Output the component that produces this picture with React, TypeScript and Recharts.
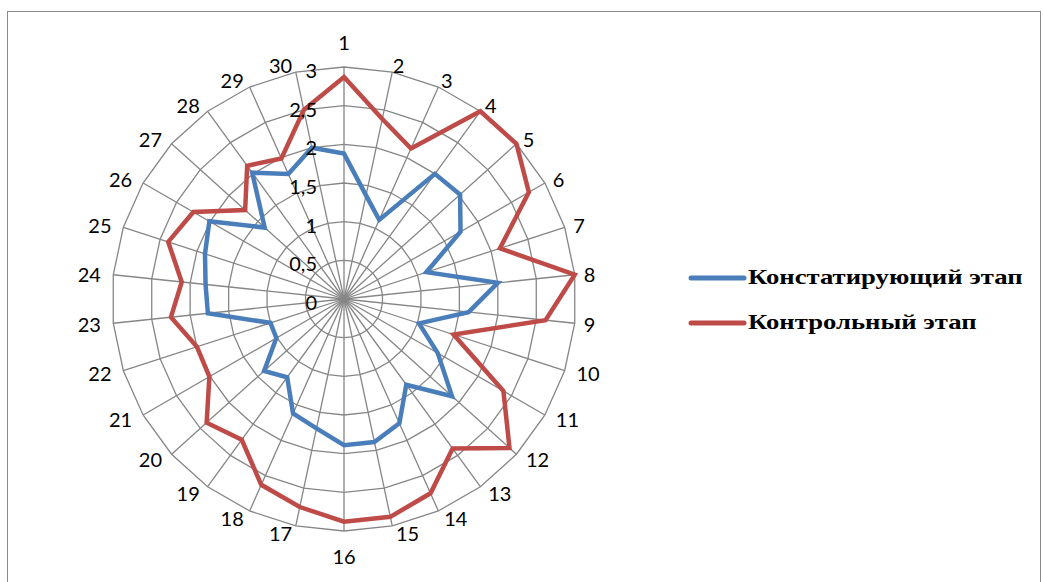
import React from 'react';
import { RadarChart, Radar, PolarGrid, PolarAngleAxis, PolarRadiusAxis, Legend } from 'recharts';

// categories 1..30
const categories = Array.from({ length: 30 }, (_, i) => String(i + 1));

const ascertainingStage = [
  1.88, 1.37, 1.12, 2.0, 2.02, 1.74, 1.12, 2.0, 1.62, 1.02,
  1.4, 1.88, 1.37, 1.76, 1.89, 1.89, 1.71, 1.62, 1.25, 1.39,
  1.01, 1.0, 1.77, 1.8, 1.89, 2.01, 1.38, 2.02, 1.77, 2.0,
];

const controlStage = [
  2.87, 2.38, 2.13, 3.0, 3.0, 2.76, 2.12, 3.0, 2.62, 1.49,
  2.38, 2.88, 2.39, 2.75, 2.88, 2.88, 2.75, 2.63, 2.25, 2.39,
  2.01, 2.0, 2.25, 2.11, 2.39, 2.25, 1.72, 2.13, 1.99, 2.5,
];

const radiusTicks = [0, 0.5, 1, 1.5, 2, 2.5, 3];

const data = categories.map((name, i) => ({
  name,
  a: ascertainingStage[i],
  b: controlStage[i],
}));

const CX = 344;
const CY = 299;
const R = 232;
const tickFont = 'Lato, "Open Sans", sans-serif';

const AngleTick = (props: any) => {
  const { payload } = props;
  const a = (payload.coordinate * Math.PI) / 180;
  const s = Math.cos(a); // horizontal component
  const c = Math.sin(a); // up component
  const label = String(payload.value);
  let x = CX;
  let y = CY;
  if (Math.abs(s) < 0.01) {
    y = CY - 257 * c;
  } else {
    const halfW = label.length === 1 ? 4 : 13;
    x = CX + 243 * s + Math.sign(s) * halfW;
    y = CY - 239.5 * c;
  }
  return (
    <text x={x} y={y} textAnchor="middle" dominantBaseline="central" fontFamily={tickFont} fontSize={20} fill="#000">
      {label}
    </text>
  );
};

const RadiusTick = (props: any) => {
  const { x, y, payload } = props;
  return (
    <text x={x - 27} y={y + 3} textAnchor="end" dominantBaseline="central" fontFamily={tickFont} fontSize={20} fill="#000">
      {String(payload.value).replace('.', ',')}
    </text>
  );
};

const renderLegend = (props: any) => {
  const { payload } = props;
  return (
    <div>
      {payload.map((entry: any) => (
        <div key={entry.value} style={{ display: 'flex', alignItems: 'center', height: 45 }}>
          <svg width={60} height={10}>
            <line x1={3} y1={5} x2={56} y2={5} stroke={entry.color} strokeWidth={5} strokeLinecap="round" />
          </svg>
          <span
            style={{
              display: 'inline-block',
              fontFamily: '"Liberation Serif", "Times New Roman", serif',
              fontWeight: 'bold',
              fontSize: 21,
              color: '#000',
              whiteSpace: 'nowrap',
              transform: 'scaleX(1.27)',
              transformOrigin: 'left center',
            }}
          >
            {entry.value}
          </span>
        </div>
      ))}
    </div>
  );
};

export default function App() {
  return (
    <div>
      <div
        style={{
          position: 'absolute',
          left: 7,
          top: 11,
          width: 1034,
          height: 571,
          boxSizing: 'border-box',
          border: '1.5px solid #8a8a8a',
          borderBottom: 'none',
        }}
      />
      <div style={{ position: 'absolute', left: 0, top: 0, width: 1043, height: 582 }}>
        <RadarChart
          width={1043}
          height={582}
          data={data}
          cx={CX}
          cy={CY}
          outerRadius={R}
          margin={{ top: 0, right: 0, bottom: 0, left: 0 }}
        >
          <PolarGrid gridType="polygon" stroke="#868686" strokeWidth={1.3} />
          <PolarAngleAxis dataKey="name" tick={AngleTick} axisLine={false} tickLine={false} />
          <PolarRadiusAxis
            angle={90}
            domain={[0, 3]}
            tickCount={radiusTicks.length}
            ticks={radiusTicks as any}
            tick={RadiusTick}
            axisLine={false}
            tickLine={false}
          />
          <Radar
            name="Констатирующий этап"
            dataKey="a"
            stroke="#4a7ebb"
            strokeWidth={4.5}
            fill="none"
            fillOpacity={0}
            dot={false}
            isAnimationActive={false}
          />
          <Radar
            name="Контрольный этап"
            dataKey="b"
            stroke="#be4b48"
            strokeWidth={4.5}
            fill="none"
            fillOpacity={0}
            dot={false}
            isAnimationActive={false}
          />
          <Legend
            layout="vertical"
            verticalAlign="top"
            align="left"
            content={renderLegend}
            wrapperStyle={{ left: 688, top: 255, width: 350 }}
          />
        </RadarChart>
      </div>
    </div>
  );
}
